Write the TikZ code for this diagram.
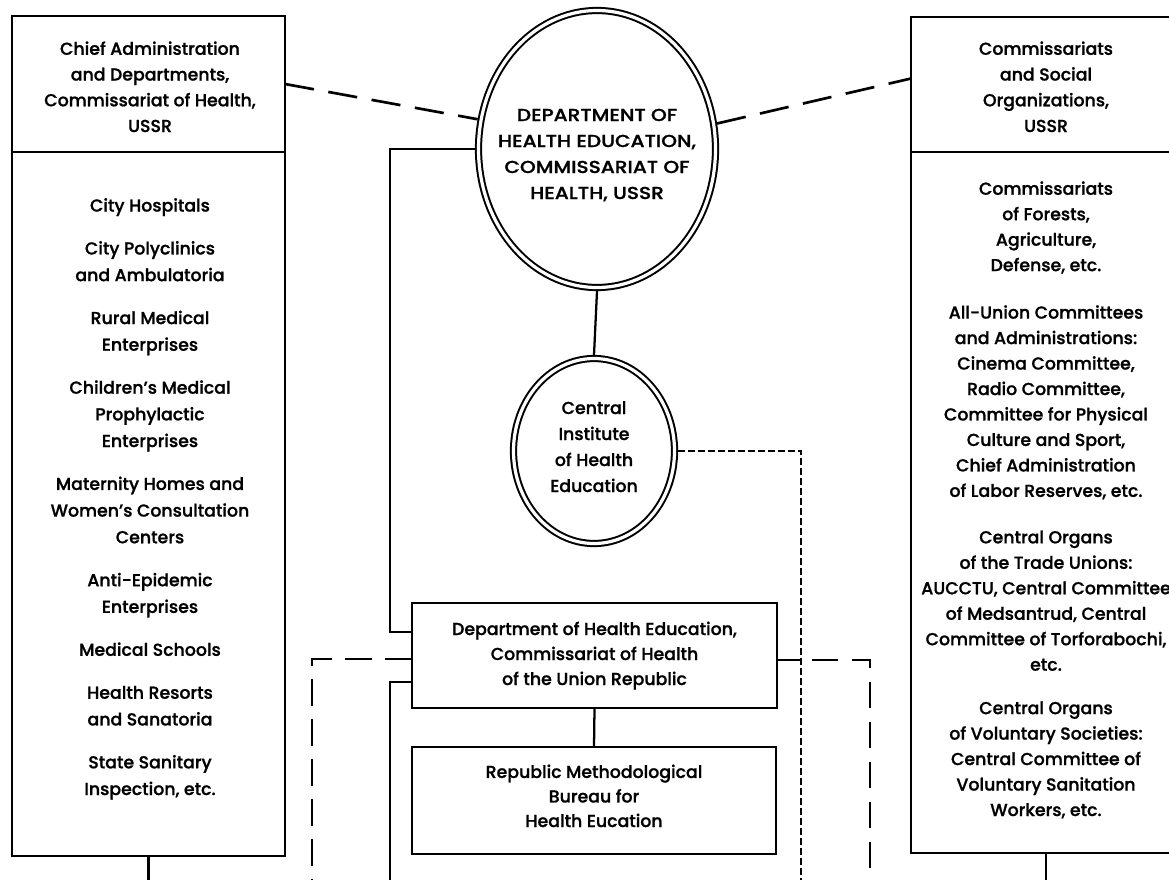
\documentclass[tikz,border=0pt]{standalone}
\usepackage{fontspec}
\IfFontExistsTF{Poppins Medium}{%
  \setmainfont{Poppins Medium}[FakeBold=1]\newfontfamily\capsfont{Poppins Medium}[FakeBold=1,FakeStretch=1.16]}{%
  \setmainfont{Poppins}[FakeBold=2.2]\newfontfamily\capsfont{Poppins}[FakeBold=2.2,FakeStretch=1.16]}
\usetikzlibrary{shapes.geometric,calc}
\begin{document}
\begin{tikzpicture}[x=0.75pt,y=-0.75pt,
  box/.style={draw, line width=2pt, inner sep=0pt, outer sep=0pt},
  ring/.style={ellipse, draw, line width=1.5pt, double, double distance=2.4pt, outer sep=2.7pt, inner sep=0pt},
  conn/.style={line width=1.7pt},
  longdash/.style={line width=2pt, dash pattern=on 22pt off 11pt},
  meddash/.style={line width=1.7pt, dash pattern=on 20pt off 10pt},
  dotline/.style={line width=2pt, dash pattern=on 5pt off 2.5pt},
  txt/.style={align=center, inner sep=0pt, anchor=base, font={\fontsize{13pt}{#1}\selectfont}}]
\fill[white] (0,0) rectangle (1169,879);
\useasboundingbox (0,0) rectangle (1169,879);
% helper coordinates
\coordinate (xL) at (390,0);
\coordinate (xLd) at (312,0);
\coordinate (xD) at (801,0);
\coordinate (xR) at (870,0);
\coordinate (bot) at (0,886);
% boxes
\node[box, minimum width=273*0.75pt, minimum height=136*0.75pt] (lt) at (148.5,84) {};
\node[box, minimum width=273*0.75pt, minimum height=704*0.75pt] (lb) at (148.5,504) {};
\node[box, minimum width=270*0.75pt, minimum height=135*0.75pt] (rt) at (1046,84.5) {};
\node[box, minimum width=270*0.75pt, minimum height=701*0.75pt] (rb) at (1046,502.5) {};
\node[ring, minimum width=237*0.75pt, minimum height=277*0.75pt] (big) at (597,149) {};
\node[ring, minimum width=161*0.75pt, minimum height=185*0.75pt] (ci) at (594,451) {};
\node[box, minimum width=365*0.75pt, minimum height=105*0.75pt] (dept) at (594.5,655.5) {};
\node[box, minimum width=364*0.75pt, minimum height=107*0.75pt] (rep) at (594,800.5) {};
% texts (anchor base = baseline of the last line)
\node[txt=19.3pt] (ltT) at (150,132) {Chief Administration\\and Departments,\\Commissariat of Health,\\USSR};
\node[txt=20pt] (lbT) at (150,795) {City Hospitals\\[12.2pt]City Polyclinics\\and Ambulatoria\\[12.2pt]Rural Medical\\Enterprises\\[12.2pt]Children’s Medical\\Prophylactic\\Enterprises\\[12.2pt]Maternity Homes and\\Women’s Consultation\\Centers\\[12.2pt]Anti-Epidemic\\Enterprises\\[12.2pt]Medical Schools\\[12.2pt]Health Resorts\\and Sanatoria\\[12.2pt]State Sanitary\\Inspection, etc.};
\node[txt=19.5pt, font={\capsfont\fontsize{13pt}{19.5pt}\selectfont}] (bigT) at (597,199) {DEPARTMENT OF\\HEALTH EDUCATION,\\COMMISSARIAT OF\\HEALTH, USSR};
\node[txt=19.5pt] (ciT) at (594,492) {Central\\Institute\\of Health\\Education};
\node[txt=18.75pt] (deptT) at (594.5,685) {Department of Health Education,\\Commissariat of Health\\of the Union Republic};
\node[txt=18.4pt] (repT) at (594,827) {Republic Methodological\\Bureau for\\Health Eucation};
\node[txt=19.3pt] (rtT) at (1046,132) {Commissariats\\and Social\\Organizations,\\USSR};
\node[txt=19.1pt] (rbT) at (1046,816) {Commissariats\\of Forests,\\Agriculture,\\Defense, etc.\\[16.5pt]All-Union Committees\\and Administrations:\\Cinema Committee,\\Radio Committee,\\Committee for Physical\\Culture and Sport,\\Chief Administration\\of Labor Reserves, etc.\\[15.75pt]Central Organs\\of the Trade Unions:\\AUCCTU, Central Committee\\of Medsantrud, Central\\Committee of Torforabochi,\\etc.\\[13.5pt]Central Organs\\of Voluntary Societies:\\Central Committee of\\Voluntary Sanitation\\Workers, etc.};
% attachment points on the department box
\coordinate (dA) at ([yshift=17.6pt]dept.west);
\coordinate (dB) at ([yshift=-19.9pt]dept.west);
\coordinate (dC) at ([yshift=-2.6pt]dept.west);
\coordinate (dE) at ([yshift=-3.4pt]dept.east);
% connectors
\draw[longdash] (lt.east) -- (big.166);
\draw[longdash] (big.12) -- ([yshift=4.5pt]rt.west);
\draw[conn] (big.west) -| (xL |- dA) -- (dA);
\draw[conn] (dB) -| (xL |- bot);
\draw[meddash] (dC) -| (xLd |- bot);
\draw[conn] (dE) -- (dE -| xD);
\draw[meddash, dash phase=-8pt] (dE -| xD) -| (xR |- bot);
\draw[dotline] (ci.east) -| (xD |- bot);
\draw[conn] (big.south) -- (ci.north);
\draw[conn] (dept.south) -- (rep.north);
\draw[conn] (lb.south) -- (lb.south |- bot);
\draw[conn] (rb.south) -- (rb.south |- bot);
\end{tikzpicture}
\end{document}
